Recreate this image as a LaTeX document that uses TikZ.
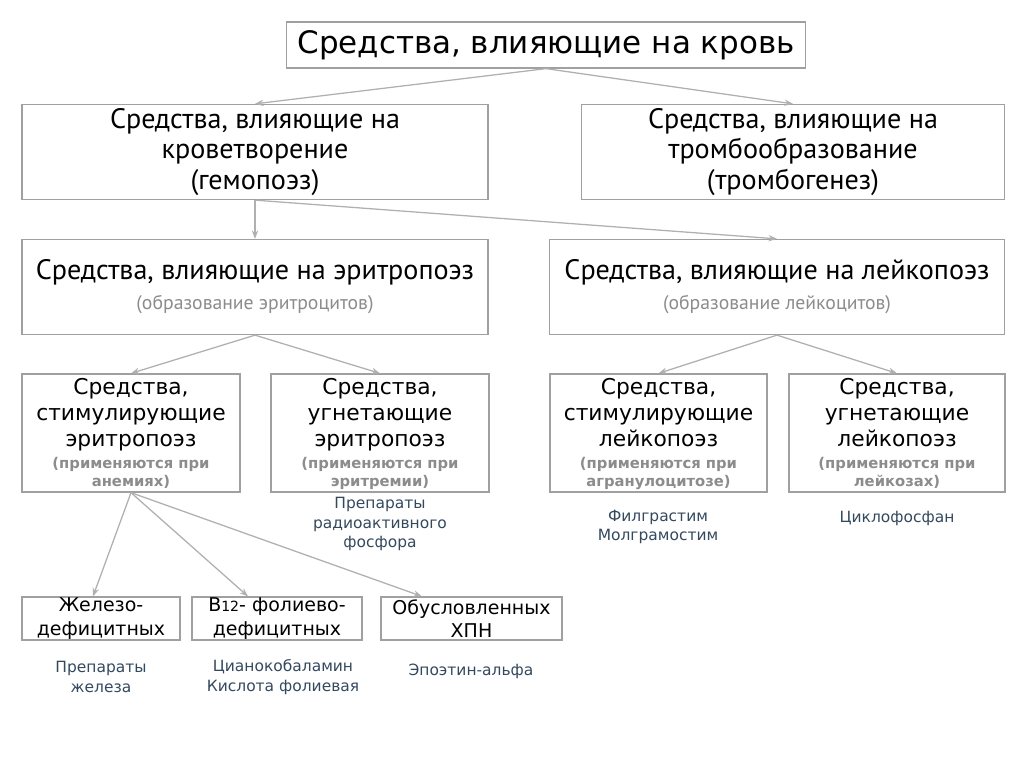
\documentclass[tikz,border=0pt]{standalone}
\usepackage{fontspec}
\setmainfont{DejaVu Sans}
\newfontfamily\narrowfont{PT Sans}
\usetikzlibrary{arrows.meta,positioning}
\definecolor{framegray}{HTML}{A0A0A0}
\definecolor{linkgray}{HTML}{B0B0B0}
\definecolor{notegray}{HTML}{8C8C8C}
\definecolor{drugblue}{HTML}{34495E}
\newcommand\subnote[1]{{\color{notegray}\bfseries\fontsize{10.5}{13}\selectfont #1}}
\tikzset{
  box/.style={draw=framegray, line width=0.9pt, inner sep=0pt},
  link/.style={draw=linkgray, line width=0.9pt, -{Stealth[length=6pt,width=4.5pt]}},
  boxtext/.style={anchor=north, align=center, inner sep=0pt, font=\fontsize{15.5}{18.5}\selectfont},
  drug/.style={text=drugblue, align=center, inner sep=0pt, font=\fontsize{11}{14}\selectfont},
}
\begin{document}
\begin{tikzpicture}[x=0.025cm, y=-0.025cm]
\useasboundingbox[fill=white] (0,0) rectangle (1024,767);
% top
\node[box, minimum width=12.975cm, minimum height=1.15cm, font=\fontsize{22}{24}\selectfont] (blood) at (546,45) {Средства, влияющие на кровь};
% second row
\node[box, minimum width=11.65cm, minimum height=2.375cm, align=center, font=\narrowfont\fontsize{20}{21.5}\selectfont] (hemo) at (255,152) {Средства, влияющие на\\кроветворение\\(гемопоэз)};
\node[box, minimum width=10.575cm, minimum height=2.375cm, align=center, font=\narrowfont\fontsize{20}{21.5}\selectfont] (thromb) at (793,152) {Средства, влияющие на\\тромбообразование\\(тромбогенез)};
% third row
\node[box, minimum width=11.65cm, minimum height=2.375cm, align=center, font=\narrowfont\fontsize{20}{21.5}\selectfont] (eryth) at (255,287) {Средства, влияющие на эритропоэз\\{\color{notegray}\fontsize{14}{16}\selectfont(образование эритроцитов)}};
\node[box, minimum width=11.375cm, minimum height=2.375cm, align=center, font=\narrowfont\fontsize{20}{21.5}\selectfont] (leuko) at (777,287) {Средства, влияющие на лейкопоэз\\{\color{notegray}\fontsize{14}{16}\selectfont(образование лейкоцитов)}};
% fourth row
\node[box, minimum width=5.45cm, minimum height=2.95cm] (se) at (131,433) {};
\node[box, minimum width=5.45cm, minimum height=2.95cm] (ie) at (380,433) {};
\node[box, minimum width=5.425cm, minimum height=2.95cm] (sl) at (658.5,433) {};
\node[box, minimum width=5.4cm, minimum height=2.95cm] (il) at (897,433) {};
\node[boxtext] (set) at (131,378) {Средства,\\стимулирующие\\эритропоэз\\[-3pt]\subnote{(применяются при}\\[-5.5pt]\subnote{анемиях)}};
\node[boxtext] (iet) at (380,378) {Средства,\\угнетающие\\эритропоэз\\[-3pt]\subnote{(применяются при}\\[-5.5pt]\subnote{эритремии)}};
\node[boxtext] (slt) at (658.5,378) {Средства,\\стимулирующие\\лейкопоэз\\[-3pt]\subnote{(применяются при}\\[-5.5pt]\subnote{агранулоцитозе)}};
\node[boxtext] (ilt) at (897,378) {Средства,\\угнетающие\\лейкопоэз\\[-3pt]\subnote{(применяются при}\\[-5.5pt]\subnote{лейкозах)}};
% bottom row
\node[box, minimum width=3.95cm, minimum height=1.075cm, align=center, font=\fontsize{13.5}{16.5}\selectfont] (fe) at (101,618.5) {Железо-\\дефицитных};
\node[box, minimum width=4.25cm, minimum height=1.075cm, align=center, font=\fontsize{13.5}{16.5}\selectfont] (bf) at (277,618.5) {B{\fontsize{10}{12}\selectfont 12}- фолиево-\\дефицитных};
\node[box, minimum width=4.525cm, minimum height=1.075cm, align=center, font=\fontsize{13.5}{16.5}\selectfont] (ckd) at (471.5,618.5) {Обусловленных\\ХПН};
% drugs
\node[drug] (d1) at (380,524) {Препараты\\радиоактивного\\фосфора};
\node[drug] (d2) at (658,527) {Филграстим\\Молграмостим};
\node[drug] (d3) at (897,518) {Циклофосфан};
\node[drug] (d4) at (101,677) {Препараты\\железа};
\node[drug] (d5) at (283,677) {Цианокобаламин\\Кислота фолиевая};
\node[drug] (d6) at (471,671) {Эпоэтин-альфа};
% arrows
\draw[link] (blood.south) -- (hemo.north);
\draw[link] (blood.south) -- (thromb.north);
\draw[link] (hemo.south) -- (eryth.north);
\draw[link] (hemo.south) -- (leuko.north);
\draw[link] (eryth.south) -- (se.north);
\draw[link] (eryth.south) -- (ie.north);
\draw[link] (leuko.south) -- (sl.north);
\draw[link] (leuko.south) -- (il.north);
\draw[link] (se.south) -- ([xshift=-0.2cm]fe.north);
\draw[link] (se.south) -- ([xshift=-0.725cm]bf.north);
\draw[link] (se.south) -- ([xshift=-1.24cm]ckd.north);
\end{tikzpicture}
\end{document}
